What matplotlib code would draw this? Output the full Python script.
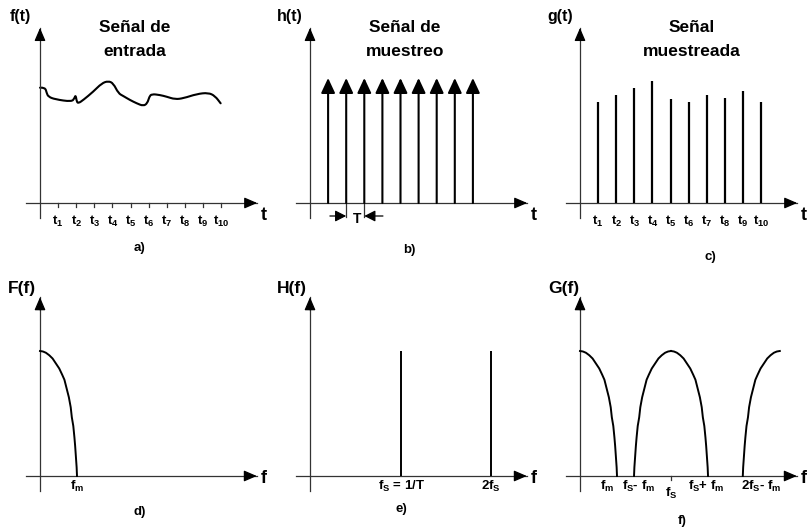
import matplotlib
matplotlib.use('Agg')
import matplotlib.pyplot as plt
from matplotlib.path import Path
from matplotlib.patches import PathPatch
import numpy as np

plt.rcParams['font.family'] = 'Liberation Sans'
plt.rcParams['font.weight'] = 'bold'
plt.rcParams['mathtext.fontset'] = 'custom'
plt.rcParams['mathtext.rm'] = 'Liberation Sans:weight=bold'
plt.rcParams['mathtext.it'] = 'Liberation Sans:weight=bold'
plt.rcParams['mathtext.bf'] = 'Liberation Sans:weight=bold'
plt.rcParams['lines.solid_joinstyle'] = 'round'

# ---- data ----
# input signal f(t) (t in units of the sampling period)
sig_t = [0, 0.28, 0.37, 0.46, 0.83, 1.75, 1.90, 1.97, 2.03, 2.12, 2.39, 2.94, 3.41,
         3.77, 4.05, 4.33, 4.60, 4.97, 5.34, 5.71, 5.93, 6.04, 6.17, 6.63, 7.00,
         7.46, 7.92, 8.66, 9.30, 9.67, 9.98]
sig_v = [1.153, 1.157, 1.10, 1.063, 1.037, 1.013, 1.047, 1.08, 1.013, 0.997, 1.03,
         1.113, 1.197, 1.22, 1.197, 1.097, 1.07, 1.03, 0.997, 0.97, 0.997, 1.063,
         1.09, 1.08, 1.063, 1.037, 1.047, 1.09, 1.103, 1.07, 0.997]

sample_t = [1, 2, 3, 4, 5, 6, 7, 8, 9, 10]
sample_labels = ['$t_{%d}$' % k for k in sample_t]
sample_v = [1.01, 1.08, 1.15, 1.22, 1.04, 1.01, 1.08, 1.05, 1.12, 1.01]

impulse_t = [1, 2, 3, 4, 5, 6, 7, 8, 9]
impulse_h = 1.25

# spectrum half-lobe shape (fraction of fm, fraction of peak)
lobe_u = [0, 0.08, 0.16, 0.25, 0.34, 0.43, 0.52, 0.60, 0.66, 0.72, 0.78, 0.83,
          0.86, 0.90, 0.93, 0.95, 0.97, 0.99, 1.0]
lobe_v = [1, 0.996, 0.986, 0.966, 0.94, 0.90, 0.86, 0.81, 0.77, 0.70, 0.63, 0.55,
          0.47, 0.40, 0.31, 0.24, 0.155, 0.07, 0]
fm = 1.0
fs = 2.46
lobe_centers = [0, fs, 5.4]
comb_f = [fs, 4.89]
comb_labels = ['$f_S$ = 1/T', '2$f_S$']
g_label_f = [0.73, 1.57, 2.46, 3.40, 4.89]
g_labels = ['$f_m$', '$f_S$- $f_m$', '$f_S$', '$f_S$+ $f_m$', '2$f_S$- $f_m$']

W, H = 807, 528
fig = plt.figure(figsize=(W / 100, H / 100), dpi=100)

AX_COL = '#333333'
BOLD = dict(fontweight='bold', family='Liberation Sans')


def make_panel(x0, x1, y0, y1, ox, oy, sx, sy):
    ax = fig.add_axes([x0 / W, 1 - y1 / H, (x1 - x0) / W, (y1 - y0) / H])
    ax.set_xlim((x0 - ox) / sx, (x1 - ox) / sx)
    ax.set_ylim((oy - y1) / sy, (oy - y0) / sy)
    ax.axis('off')
    return ax


def axis_arrow(ax, start, end):
    ax.annotate('', xy=end, xytext=start,
                arrowprops=dict(arrowstyle='-|>,head_length=0.65,head_width=0.28',
                                color='black', lw=0.9, mutation_scale=12,
                                shrinkA=0, shrinkB=0), annotation_clip=False)


def draw_axes(ax, xmin, xmax, ymin, ymax):
    ax.plot([xmin, xmax], [0, 0], color=AX_COL, lw=0.9)
    ax.plot([0, 0], [ymin, ymax], color=AX_COL, lw=0.9)
    axis_arrow(ax, (xmax - 0.3 * (xmax - xmin) / 12, 0), (xmax, 0))
    axis_arrow(ax, (0, ymax - 0.1), (0, ymax))


def smooth_path(xs, ys):
    # rounded polyline: quadratic curves through segment midpoints
    pts = list(zip(xs, ys))
    verts = [pts[0]]
    codes = [Path.MOVETO]
    for i in range(1, len(pts) - 1):
        mid = ((pts[i][0] + pts[i + 1][0]) / 2, (pts[i][1] + pts[i + 1][1]) / 2)
        verts += [pts[i], mid]
        codes += [Path.CURVE3, Path.CURVE3]
    verts.append(pts[-1])
    codes.append(Path.LINETO)
    return Path(verts, codes)


top_sx, top_sy = 18.1, 100.0
bot_sx, bot_sy = 37.0, 125.0

# ---------- top row ----------
axa = make_panel(0, 269, 0, 264, 40, 203, top_sx, top_sy)
axb = make_panel(269, 538, 0, 264, 310, 203, top_sx, top_sy)
axc = make_panel(538, 807, 0, 264, 580, 203, top_sx, top_sy)

for ax, name, t1, t2, letter, lx, ly in [
        (axa, 'f(t)', 'Señal de', 'entrada', 'a)', 5.52, -0.45),
        (axb, 'h(t)', 'Señal de', 'muestreo', 'b)', 5.47, -0.47),
        (axc, 'g(t)', 'Señal', 'muestreada', 'c)', 7.18, -0.54)]:
    draw_axes(ax, -0.77, 12.0, -0.15, 1.75)
    ax.text(-1.1, 1.86, name, ha='center', va='center', fontsize=11.5, **BOLD)
    tx = 6.19 if ax is axc else 5.25
    ax.text(tx, 1.75, t1, ha='center', va='center', fontsize=12.5, **BOLD)
    ax.text(tx, 1.51, t2, ha='center', va='center', fontsize=12.5, **BOLD)
    ax.text(12.35, -0.12, 't', ha='center', va='center', fontsize=13, clip_on=False, **BOLD)
    ax.text(lx, ly, letter, ha='center', va='center', fontsize=9.5, **BOLD)

# a) input signal
axa.add_patch(PathPatch(smooth_path(sig_t, sig_v), facecolor='none',
                        edgecolor='black', lw=1.5, capstyle='round', joinstyle='round'))
for t, lab in zip(sample_t, sample_labels):
    axa.plot([t, t], [0, -0.04], color=AX_COL, lw=0.9)
    axa.text(t, -0.185, lab, ha='center', va='center', fontsize=9.5, **BOLD)

# b) sampling impulses
for t in impulse_t:
    axb.annotate('', xy=(t, impulse_h), xytext=(t, 0),
                 arrowprops=dict(arrowstyle='-|>,head_length=0.75,head_width=0.35',
                                 color='black', lw=1.5, mutation_scale=12,
                                 shrinkA=0, shrinkB=0))
axb.plot([2, 2], [0, -0.14], color=AX_COL, lw=0.9)
axb.plot([3, 3], [0, -0.14], color=AX_COL, lw=0.9)
for a0, a1 in [(1.1, 2.0), (4.03, 3.0)]:
    axb.annotate('', xy=(a1, -0.13), xytext=(a0, -0.13),
                 arrowprops=dict(arrowstyle='-|>,head_length=0.55,head_width=0.28',
                                 color='black', lw=0.9, mutation_scale=12,
                                 shrinkA=0, shrinkB=0))
axb.text(2.6, -0.16, 'T', ha='center', va='center', fontsize=10, **BOLD)

# c) sampled signal
axc.vlines(sample_t, 0, sample_v, color='black', lw=1.6)
for t, lab in zip(sample_t, sample_labels):
    axc.text(t, -0.185, lab, ha='center', va='center', fontsize=9.5, **BOLD)

# ---------- bottom row ----------
axd = make_panel(0, 269, 264, 528, 40, 476, bot_sx, bot_sy)
axe = make_panel(269, 538, 264, 528, 310, 476, bot_sx, bot_sy)
axf = make_panel(538, 807, 264, 528, 580, 476, bot_sx, bot_sy)

for ax, name, letter, lx, ly in [
        (axd, 'F(f)', 'd)', 2.7, -0.29),
        (axe, 'H(f)', 'e)', 2.46, -0.265),
        (axf, 'G(f)', 'f)', 2.76, -0.36)]:
    draw_axes(ax, -0.38, 5.86, -0.12, 1.43)
    nx = -0.43 if ax is axf else -0.5
    ax.text(nx, 1.5, name, ha='center', va='center', fontsize=12.5, **BOLD)
    ax.text(6.04, -0.02, 'f', ha='center', va='center', fontsize=13, clip_on=False, **BOLD)
    ax.text(lx, ly, letter, ha='center', va='center', fontsize=9.5, **BOLD)

u = np.array(lobe_u) * fm
v = np.array(lobe_v)

# d) baseband spectrum
axd.plot(u, v, color='black', lw=1.4)
axd.text(fm, -0.08, '$f_m$', ha='center', va='center', fontsize=9.5, **BOLD)

# e) comb spectrum
axe.vlines(comb_f, 0, 1, color='black', lw=1.4)
for f, lab in zip(comb_f, comb_labels):
    axe.text(f, -0.08, lab, ha='center', va='center', fontsize=9.5, **BOLD)

# f) sampled spectrum
axf.plot(lobe_centers[0] + u, v, color='black', lw=1.4)
axf.plot(lobe_centers[1] - u, v, color='black', lw=1.4)
axf.plot(lobe_centers[1] + u, v, color='black', lw=1.4)
axf.plot(lobe_centers[2] - u, v, color='black', lw=1.4)
axf.plot([fs, fs], [0, -0.035], color=AX_COL, lw=0.9)
for f, lab in zip(g_label_f, g_labels):
    y = -0.14 if lab == '$f_S$' else -0.08
    axf.text(f, y, lab, ha='center', va='center', fontsize=9.5, **BOLD)

fig.savefig('out.png', dpi=100)
